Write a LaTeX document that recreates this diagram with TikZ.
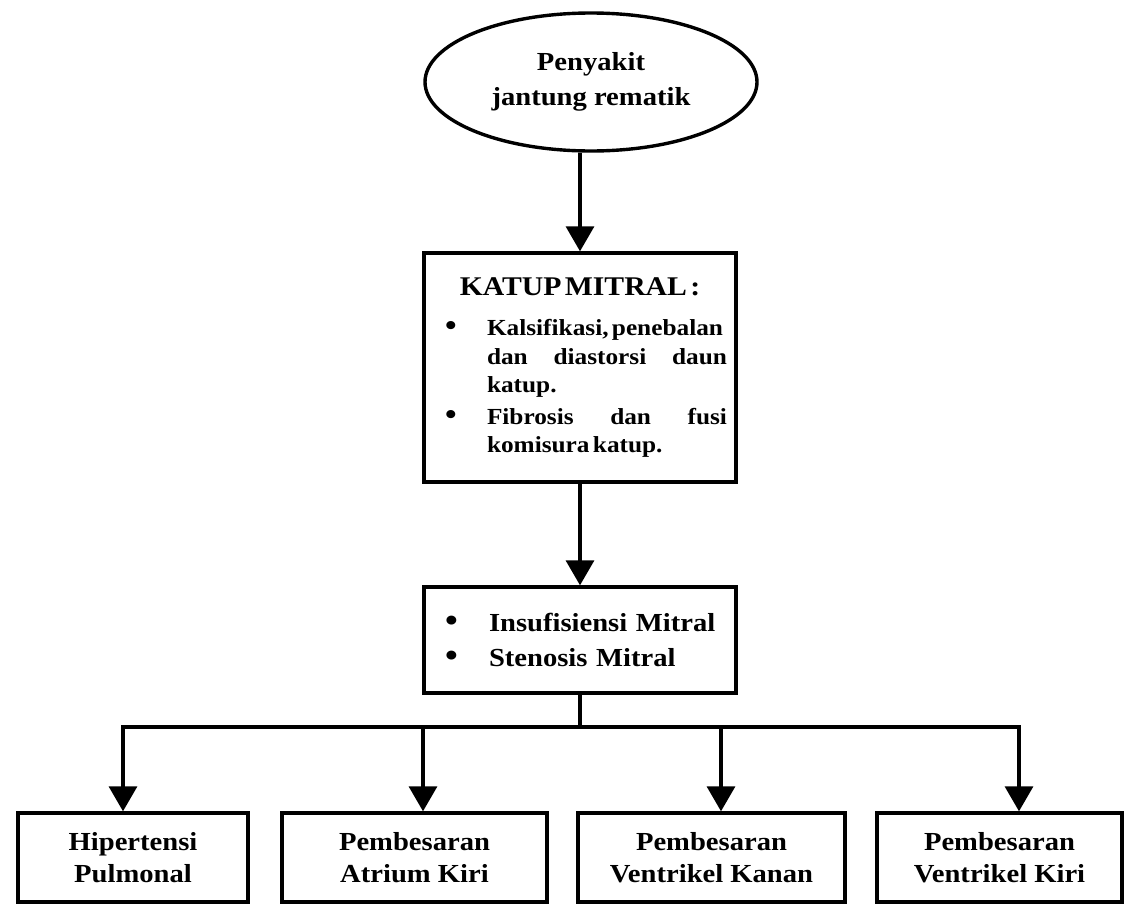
\documentclass[tikz,border=0pt]{standalone}
\usepackage{fontspec}
\setmainfont{Liberation Serif}[FakeStretch=1.1]
\usetikzlibrary{shapes.geometric,arrows.meta}

\newcommand{\bigdot}[1]{{\fontsize{#1}{#1}\selectfont\textbullet}}

\begin{document}
\begin{tikzpicture}[x=1pt, y=-1pt]
    % Styles
    \tikzstyle{box} = [rectangle, draw=black, line width=3.4pt, inner sep=0pt, align=center, font=\bfseries]
    \tikzstyle{oval} = [ellipse, draw=black, line width=3.4pt, inner sep=0pt, align=center, font=\bfseries\fontsize{26}{35}\selectfont]
    \tikzstyle{arrow} = [line width=3.4pt, -{Triangle[length=25pt, width=28pt]}]
    \tikzstyle{result} = [box, minimum height=89pt, font=\bfseries\fontsize{26}{32}\selectfont]

    \useasboundingbox (0,0) rectangle (1130,905);

    % Nodes
    \node[oval, minimum width=332pt, minimum height=138pt] (rhd) at (591,82) {Penyakit\\jantung rematik};
    \node[box, minimum width=312pt, minimum height=229pt, text width=292pt, align=left] (katup) at (580,367.5) {%
        {\centering\fontsize{27}{30}\selectfont KATUP MITRAL :\par}
        \vspace{12pt}
        \fontsize{23}{28.5}\selectfont
        \makebox[53pt][l]{\hspace{11pt}\bigdot{30}}\parbox[t]{240pt}{Kalsifikasi, penebalan\\dan\hfill diastorsi\hfill daun\\katup.}\par
        \vspace{9pt}
        \makebox[53pt][l]{\hspace{11pt}\bigdot{30}}\parbox[t]{240pt}{Fibrosis\hfill dan\hfill fusi\\komisura katup.}\par
        \vspace{14pt}};
    \node[box, minimum width=312pt, minimum height=106pt, text width=292pt, align=left, font=\bfseries\fontsize{26}{35}\selectfont] (lesi) at (580,640) {%
        \makebox[55pt][l]{\hspace{11pt}\bigdot{33}}Insufisiensi Mitral\\
        \makebox[55pt][l]{\hspace{11pt}\bigdot{33}}Stenosis Mitral};
    \node[result, minimum width=230pt] (hp) at (133,857.5) {Hipertensi\\Pulmonal};
    \node[result, minimum width=265pt] (aki) at (414.5,857.5) {Pembesaran\\Atrium Kiri};
    \node[result, minimum width=267pt] (vka) at (711.5,857.5) {Pembesaran\\Ventrikel Kanan};
    \node[result, minimum width=245pt] (vki) at (999.5,857.5) {Pembesaran\\Ventrikel Kiri};

    % Bus
    \coordinate (bus) at (580,727);
    \coordinate (b1) at (123,727);
    \coordinate (b2) at (423,727);
    \coordinate (b3) at (721,727);
    \coordinate (b4) at (1019,727);

    % Arrows
    \draw[arrow] (katup.north |- rhd.south) -- (katup.north);
    \draw[arrow] (katup.south) -- (lesi.north);
    \draw[arrow] (lesi.south) -- (bus) -| (b1 |- hp.north);
    \draw[arrow] (bus) -| (b4 |- vki.north);
    \draw[arrow] (b2) -- (b2 |- aki.north);
    \draw[arrow] (b3) -- (b3 |- vka.north);
\end{tikzpicture}
\end{document}
